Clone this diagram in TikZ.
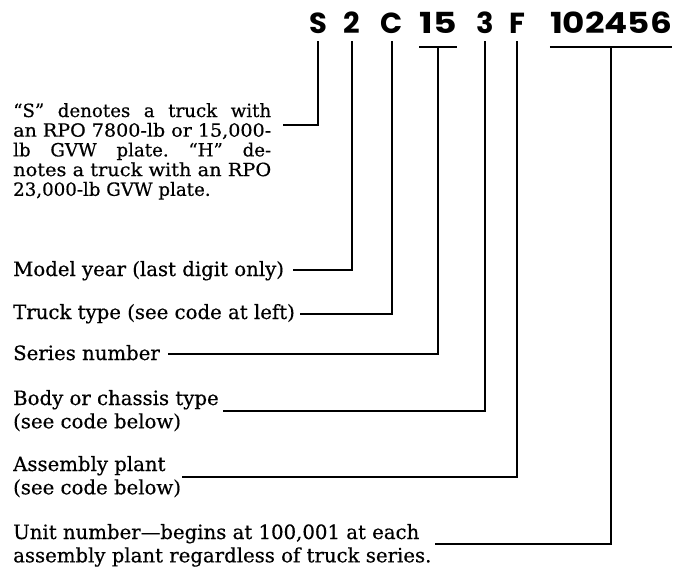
\documentclass[tikz,border=0pt]{standalone}
\usepackage{fontspec}
\setmainfont{DejaVu Serif}[FakeBold=0.5]
\newfontfamily\hdrfont{Poppins}
\newcommand\gp[1]{\hspace{#1 plus 1fil}}
\begin{document}
\begin{tikzpicture}[x=1pt,y=-1pt,
  lbl/.style={anchor=base west, inner sep=0pt},
  one/.style={lbl, font=\fontsize{19.7}{23.5}\selectfont},
  two/.style={lbl, font=\fontsize{19.7}{23.3}\selectfont},
  hdr/.style={anchor=base, inner xsep=0pt, inner ysep=7pt, text depth=0pt,
              font=\hdrfont\bfseries\fontsize{29}{32}\selectfont},
  brk/.style={hdr, inner ysep=13pt},
  conn/.style={line width=1.8pt, line join=miter}]
\useasboundingbox (0,0) rectangle (681,570);
% header code
\node[hdr] (hS) at (318,34) {S};
\node[hdr] (h2) at (352,34) {2};
\node[hdr] (hC) at (392,34) {C};
\node[brk] (h15) at (438,34) {\scalebox{1.25}[1]{15}};
\node[hdr] (h3) at (485,34) {3};
\node[hdr] (hF) at (517,34) {F};
\node[brk] (hU) at (611,34) {\scalebox{1.18}[1]{102456}};
% labels
\node[lbl, font=\fontsize{18.2}{19.7}\selectfont] (lS) at (13,117)
  {\parbox[t]{258pt}{%
   \makebox[258pt][s]{``S''\gp{5pt}denotes\gp{5pt}a\gp{5pt}truck\gp{5pt}with}\\
   \resizebox{258pt}{\height}{an RPO 7800-lb or 15,000-}\\
   \makebox[258pt][s]{lb\gp{5pt}GVW\gp{5pt}plate.\gp{5pt}``H''\gp{5pt}de-}\\
   \resizebox{258pt}{\height}{notes a truck with an RPO}\\
   \makebox{23,000-lb GVW plate.}}};
\node[one] (lM) at (13,276) {Model year (last digit only)};
\node[one] (lT) at (13,319) {Truck type (see code at left)};
\node[one] (lSe) at (13,360) {Series number};
\node[two] (lB) at (13,405) {\parbox[t]{300pt}{Body or chassis type\\(see code below)}};
\node[two] (lA) at (13,471) {\parbox[t]{300pt}{Assembly plant\\(see code below)}};
\node[two] (lU) at (13,539) {\parbox[t]{440pt}{Unit number---begins at 100,001 at each\\assembly plant regardless of truck series.}};
% connector start points
\coordinate (cS) at (283,125);
\coordinate (cM) at (293,270);
\coordinate (cT) at (300,314);
\coordinate (cSe) at (168,354);
\coordinate (cB) at (223,411);
\coordinate (cA) at (182,477);
\coordinate (cU) at (435,544);
% connectors
\draw[conn] (cS) -| (hS.south);
\draw[conn] (cM) -| (h2.south);
\draw[conn] (cT) -| (hC.south);
\draw[conn] (h15.south west) -- (h15.south east);
\draw[conn] (cSe) -| (h15.south);
\draw[conn] (cB) -| (h3.south);
\draw[conn] (cA) -| (hF.south);
\draw[conn] (hU.south west) -- (hU.south east);
\draw[conn] (cU) -| (hU.south);
\end{tikzpicture}
\end{document}
